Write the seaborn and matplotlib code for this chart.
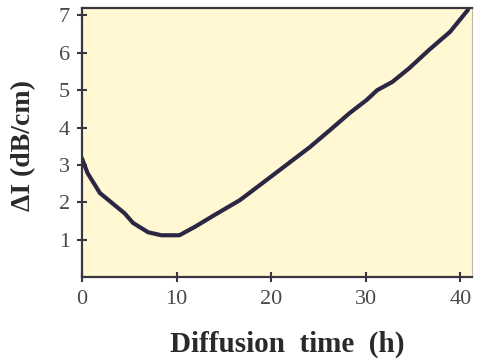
import matplotlib
matplotlib.use("Agg")
import matplotlib.pyplot as plt
import seaborn as sns
import pandas as pd

# Attenuation change versus diffusion time
time_h = [0, 0.6, 1.9, 3.2, 4.5, 5.4, 7.0, 8.4, 10.3, 11.9, 14.0, 16.7,
          20.2, 24.1, 26.2, 28.3, 30.1, 31.2, 32.8, 34.6, 36.7, 38.9, 40.8]
delta_i = [3.18, 2.78, 2.25, 1.98, 1.71, 1.45, 1.20, 1.12, 1.12, 1.34, 1.66, 2.06,
           2.73, 3.48, 3.93, 4.39, 4.74, 5.00, 5.22, 5.59, 6.08, 6.56, 7.15]
x_ticks = [0, 10, 20, 30, 40]
y_ticks = [1, 2, 3, 4, 5, 6, 7]

df = pd.DataFrame({"time": time_h, "dI": delta_i})

sns.set_style("ticks")
plt.rcParams["font.family"] = ["Liberation Serif", "DejaVu Serif"]

fig = plt.figure(figsize=(4.79, 3.59), dpi=100)
ax = fig.add_axes([0.171, 0.228, 0.814, 0.750])
ax.set_facecolor("#FFF8D2")

sns.lineplot(data=df, x="time", y="dI", ax=ax, color="#2B2642",
             linewidth=3.0, sort=False, solid_joinstyle="round",
             solid_capstyle="round")

ax.set_xlim(0, 41.2)
ax.set_ylim(0, 7.2)
ax.set_xticks(x_ticks)
ax.set_yticks(y_ticks)

spine_col = "#3A3640"
for side in ["left", "bottom", "top"]:
    ax.spines[side].set_visible(True)
    ax.spines[side].set_color(spine_col)
    ax.spines[side].set_linewidth(1.6)
ax.spines["right"].set_visible(True)
ax.spines["right"].set_color("#BDB8A8")
ax.spines["right"].set_linewidth(0.8)

ax.tick_params(axis="both", direction="inout", length=7, width=1.5,
               color=spine_col, labelsize=16, labelcolor="#4A4A4A")
ax.tick_params(axis="x", pad=6)
ax.tick_params(axis="y", pad=5)

ax.set_xlabel("Diffusion  time  (h)", fontsize=21, fontweight="bold",
              color="#2A2A2A")
ax.set_ylabel("ΔI (dB/cm)", fontsize=20, fontweight="bold",
              color="#2A2A2A")
ax.xaxis.set_label_coords(0.526, -0.2)
ax.yaxis.set_label_coords(-0.118, 0.49)

fig.savefig("out.png", dpi=100, facecolor="white")
